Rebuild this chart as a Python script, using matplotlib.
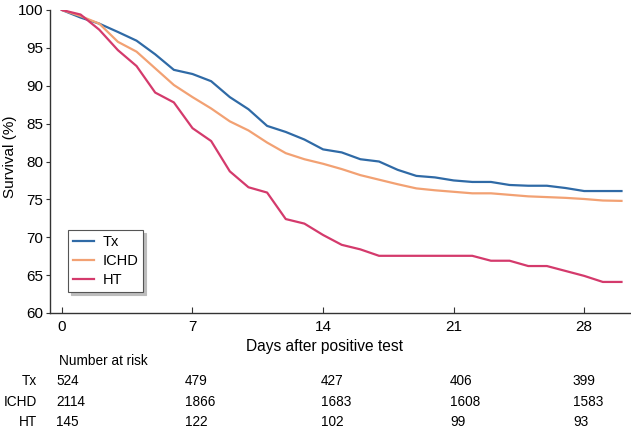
import numpy as np
import matplotlib.pyplot as plt
import matplotlib.transforms as mtransforms

plt.rcParams['font.family'] = ['Liberation Sans', 'DejaVu Sans']

# survival curves (one value per day)
days = np.arange(0, 31)
tx = [100, 99.0, 98.2, 97.1, 95.95, 94.15, 92.1, 91.55, 90.6, 88.5, 86.9,
      84.7, 83.9, 82.9, 81.6, 81.2, 80.3, 80.0, 78.9, 78.1, 77.9,
      77.5, 77.3, 77.3, 76.9, 76.8, 76.8, 76.5, 76.1, 76.1, 76.1]
ichd = [100, 99.2, 98.2, 95.8, 94.5, 92.3, 90.1, 88.5, 87.0, 85.3, 84.1,
        82.5, 81.1, 80.3, 79.7, 79.0, 78.2, 77.6, 77.0, 76.45, 76.2,
        76.0, 75.8, 75.8, 75.6, 75.4, 75.3, 75.2, 75.05, 74.85, 74.8]
ht = [100, 99.4, 97.4, 94.7, 92.6, 89.1, 87.8, 84.4, 82.7, 78.7, 76.6,
      75.9, 72.4, 71.8, 70.3, 69.0, 68.4, 67.55, 67.55, 67.55, 67.55,
      67.55, 67.55, 66.9, 66.9, 66.2, 66.2, 65.55, 64.9, 64.1, 64.1]

groups = ["Tx", "ICHD", "HT"]
colors = ["#2f6aa6", "#f2a173", "#d43a6c"]
at_risk = [[524, 479, 427, 406, 399],
           [2114, 1866, 1683, 1608, 1583],
           [145, 122, 102, 99, 93]]
xticks = [0, 7, 14, 21, 28]

fig = plt.figure(figsize=(6.31, 4.30), dpi=100)
ax = fig.add_axes([50 / 631, 117 / 430, 581 / 631, 303 / 430])

for name, vals, c in zip(groups, [tx, ichd, ht], colors):
    ax.plot(days, vals, color=c, lw=1.6, label=name)

ax.set_xlim(-0.64, 30.51)
ax.set_ylim(60, 100)
ax.set_xticks(xticks)
ax.set_yticks(np.arange(60, 101, 5))
ax.spines['top'].set_visible(False)
ax.spines['right'].set_visible(False)
for s in ['left', 'bottom']:
    ax.spines[s].set_color('#333333')
    ax.spines[s].set_linewidth(1.0)
ax.tick_params(axis='x', direction='in', length=4, pad=5, labelsize=11, color='#333333')
ax.tick_params(axis='y', direction='out', length=3, pad=2, labelsize=11, color='#333333')

ax.set_xlabel("Days after positive test", fontsize=11.2)
ax.xaxis.set_label_coords(0.4725, -0.086)
ax.set_ylabel("Survival (%)", fontsize=11)
ax.yaxis.set_label_coords(-0.057, 0.516)

leg = ax.legend(loc='lower left', bbox_to_anchor=(0.031, 0.069), borderaxespad=0,
                fancybox=False, shadow={'color': '#bdbdbd', 'alpha': 1.0}, fontsize=10.5,
                handlelength=1.4, labelspacing=0.33, borderpad=0.35, handletextpad=0.6)
leg.get_frame().set_edgecolor('#555555')
leg.get_frame().set_linewidth(0.8)

# number at risk table
tr = mtransforms.blended_transform_factory(ax.transData, fig.transFigure)
col_x = [-0.3, 6.6, 13.9, 20.8, 27.4]
row_y = [0.115, 0.066, 0.018]
ax.text(-0.16, 0.161, "Number at risk", transform=tr, fontsize=9.8,
        va='center', ha='left', clip_on=False)
for name, counts, y in zip(groups, at_risk, row_y):
    ax.text(-1.34, y, name, transform=tr, fontsize=9.8, va='center', ha='right', clip_on=False)
    for x, n in zip(col_x, counts):
        ax.text(x, y, str(n), transform=tr, fontsize=9.8, va='center', ha='left', clip_on=False)

fig.savefig("out.png", dpi=100)
